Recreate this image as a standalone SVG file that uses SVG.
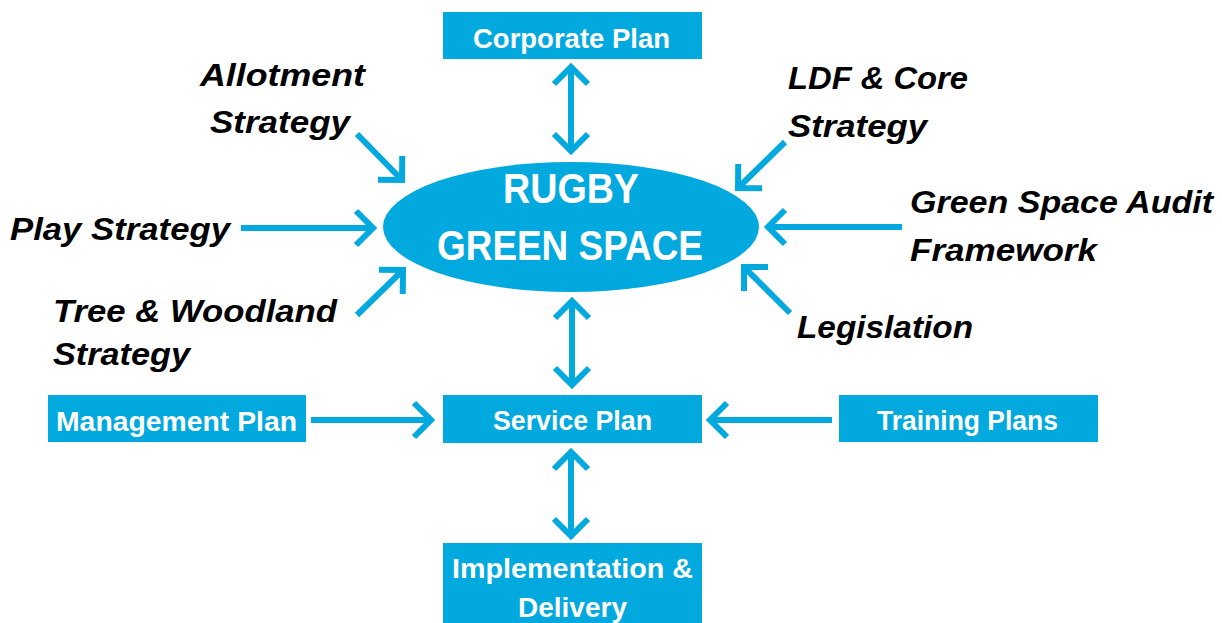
<svg xmlns="http://www.w3.org/2000/svg" width="1222" height="623" viewBox="0 0 1222 623">
  <style>
    .box { fill: #02A9DF; }
    .hub { fill: #02A9DF; }
    .boxtxt { font-family: "Liberation Sans", Arial, sans-serif; font-weight: bold; font-size: 28px; fill: #FFFFFF; }
    .hubtxt { font-family: "Liberation Sans", Arial, sans-serif; font-weight: bold; font-size: 43px; fill: #FFFFFF; }
    .lbl { font-family: "Liberation Sans", Arial, sans-serif; font-weight: bold; font-style: italic; font-size: 32px; fill: #000000; }
    .conn { stroke: #02A9DF; stroke-width: 6; fill: none; }
  </style>
  <defs>
    <marker id="head" markerUnits="userSpaceOnUse" orient="auto-start-reverse" refX="0" refY="0" markerWidth="40" markerHeight="40" overflow="visible">
      <path d="M-17,-17 L0,0 L-17,17" fill="none" stroke="#02A9DF" stroke-width="6" stroke-linejoin="miter"/>
    </marker>
  </defs>
  <rect width="1222" height="623" fill="#FFFFFF"/>

  <!-- connectors -->
  <g id="connectors" class="conn">
    <line x1="571" y1="67" x2="571" y2="151" marker-start="url(#head)" marker-end="url(#head)"/>
    <line x1="572" y1="301" x2="572" y2="385" marker-start="url(#head)" marker-end="url(#head)"/>
    <line x1="571" y1="452" x2="571" y2="536" marker-start="url(#head)" marker-end="url(#head)"/>
    <line x1="311" y1="420" x2="431" y2="420" marker-end="url(#head)"/>
    <line x1="832" y1="420" x2="710" y2="420" marker-end="url(#head)"/>
    <line x1="241" y1="228" x2="373" y2="228" marker-end="url(#head)"/>
    <line x1="902" y1="227" x2="768" y2="227" marker-end="url(#head)"/>
    <line x1="357" y1="134" x2="402" y2="180" marker-end="url(#head)"/>
    <line x1="785" y1="142" x2="738" y2="188" marker-end="url(#head)"/>
    <line x1="790" y1="313" x2="744" y2="267" marker-end="url(#head)"/>
    <line x1="357" y1="315" x2="403" y2="270" marker-end="url(#head)"/>
  </g>

  <!-- central hub -->
  <g id="rugby-green-space">
    <ellipse class="hub" cx="571" cy="227" rx="188" ry="65"/>
    <text class="hubtxt" x="503" y="203" textLength="136" lengthAdjust="spacingAndGlyphs">RUGBY</text>
    <text class="hubtxt" x="437" y="260" textLength="266" lengthAdjust="spacingAndGlyphs">GREEN SPACE</text>
  </g>

  <!-- plan boxes -->
  <g id="corporate-plan">
    <rect class="box" x="443" y="12" width="259" height="47"/>
    <text class="boxtxt" x="473" y="48" textLength="197" lengthAdjust="spacingAndGlyphs">Corporate Plan</text>
  </g>
  <g id="service-plan">
    <rect class="box" x="443" y="395" width="259" height="48"/>
    <text class="boxtxt" x="493" y="430" textLength="159" lengthAdjust="spacingAndGlyphs">Service Plan</text>
  </g>
  <g id="management-plan">
    <rect class="box" x="48" y="395" width="258" height="47"/>
    <text class="boxtxt" x="56" y="431" textLength="241" lengthAdjust="spacingAndGlyphs">Management Plan</text>
  </g>
  <g id="training-plans">
    <rect class="box" x="839" y="395" width="259" height="47"/>
    <text class="boxtxt" x="877" y="430" textLength="181" lengthAdjust="spacingAndGlyphs">Training Plans</text>
  </g>
  <g id="implementation-delivery">
    <rect class="box" x="443" y="543" width="259" height="90"/>
    <text class="boxtxt" x="452" y="578" textLength="241" lengthAdjust="spacingAndGlyphs">Implementation &amp;</text>
    <text class="boxtxt" x="518" y="617" textLength="109" lengthAdjust="spacingAndGlyphs">Delivery</text>
  </g>

  <!-- strategy labels -->
  <g id="allotment-strategy">
    <text class="lbl" x="200" y="86" textLength="165" lengthAdjust="spacingAndGlyphs">Allotment</text>
    <text class="lbl" x="210" y="133" textLength="140" lengthAdjust="spacingAndGlyphs">Strategy</text>
  </g>
  <g id="play-strategy">
    <text class="lbl" x="10" y="240" textLength="220" lengthAdjust="spacingAndGlyphs">Play Strategy</text>
  </g>
  <g id="tree-woodland-strategy">
    <text class="lbl" x="53" y="322" textLength="284" lengthAdjust="spacingAndGlyphs">Tree &amp; Woodland</text>
    <text class="lbl" x="53" y="365" textLength="137" lengthAdjust="spacingAndGlyphs">Strategy</text>
  </g>
  <g id="ldf-core-strategy">
    <text class="lbl" x="788" y="89" textLength="180" lengthAdjust="spacingAndGlyphs">LDF &amp; Core</text>
    <text class="lbl" x="788" y="137" textLength="139" lengthAdjust="spacingAndGlyphs">Strategy</text>
  </g>
  <g id="green-space-audit-framework">
    <text class="lbl" x="910" y="213" textLength="303" lengthAdjust="spacingAndGlyphs">Green Space Audit</text>
    <text class="lbl" x="910" y="261" textLength="187" lengthAdjust="spacingAndGlyphs">Framework</text>
  </g>
  <g id="legislation">
    <text class="lbl" x="797" y="338" textLength="176" lengthAdjust="spacingAndGlyphs">Legislation</text>
  </g>
</svg>
